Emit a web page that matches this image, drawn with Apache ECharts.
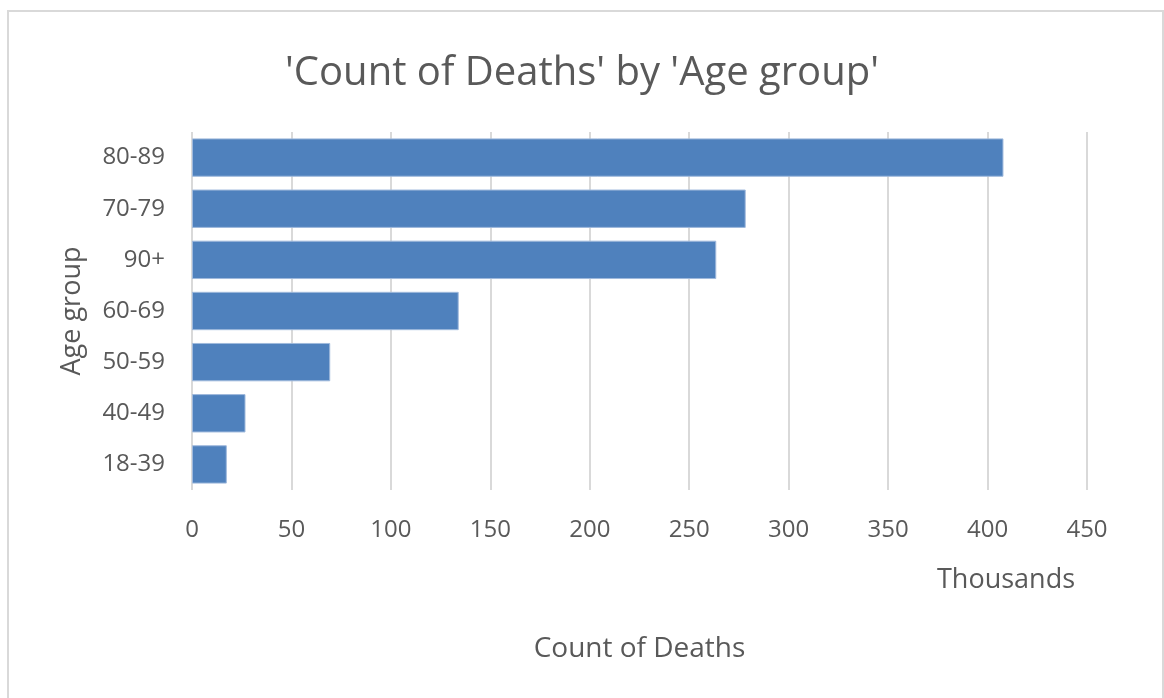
<!DOCTYPE html>
<html><head><meta charset="utf-8">
<script src="https://cdn.jsdelivr.net/npm/echarts@6/dist/echarts.min.js"></script>
<style>html,body{margin:0;padding:0;background:#fff}#c{width:1164px;height:698px}</style>
</head><body><div id="c"></div>
<script>
const categories = ['80-89','70-79','90+','60-69','50-59','40-49','18-39'];
const deathsThousands = [408.0, 278.4, 263.6, 134.1, 69.5, 26.9, 17.5];
const xTicks = [0, 50, 100, 150, 200, 250, 300, 350, 400, 450];
const titleText = "'Count of Deaths' by 'Age group'";
const xName = 'Count of Deaths';
const yName = 'Age group';
const unitText = 'Thousands';
const font = "'Open Sans', sans-serif";
const txt = '#595959';
const chart = echarts.init(document.getElementById('c'), null, {renderer:'canvas'});
chart.setOption({
  animation:false,
  backgroundColor:'#fff',
  title:{text:titleText,left:'center',top:49,textStyle:{fontFamily:font,fontSize:40,fontWeight:'normal',color:txt}},
  grid:{left:192,right:77,top:132,bottom:208,containLabel:false},
  xAxis:{type:'value',min:xTicks[0],max:xTicks[xTicks.length-1],interval:50,
    axisLine:{show:false},axisTick:{show:false},
    splitLine:{lineStyle:{color:'#d9d9d9',width:2}},
    axisLabel:{fontFamily:font,fontSize:24,color:txt,margin:28},
    name:xName,nameLocation:'middle',nameGap:145,
    nameTextStyle:{fontFamily:font,fontSize:28,color:txt}},
  yAxis:{type:'category',data:categories,inverse:true,
    axisLine:{show:false},axisTick:{show:false},
    axisLabel:{fontFamily:font,fontSize:24,color:txt,margin:27},
    name:yName,nameLocation:'middle',nameGap:106,nameRotate:90,
    nameTextStyle:{fontFamily:font,fontSize:27,color:txt}},
  series:[{type:'bar',data:deathsThousands,barCategoryGap:'25%',
    itemStyle:{color:'#4f81bd',borderColor:'#9fb9dc',borderWidth:1}}],
  graphic:[
    {type:'rect',shape:{x:8,y:11,width:1155,height:720},style:{fill:'none',stroke:'#d9d9d9',lineWidth:2}},
    {type:'text',x:937,y:580,style:{text:unitText,font:"27px "+font,fill:txt,verticalAlign:'middle',align:'left'}}
  ]
});
</script></body></html>
